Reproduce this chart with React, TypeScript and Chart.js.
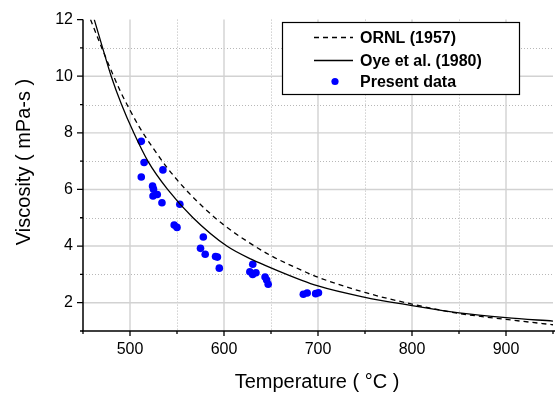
import React, { useEffect, useRef } from "react";
import { Chart, registerables } from "chart.js";

Chart.register(...registerables);

// ORNL (1957) curve
const ornlT = [458, 470, 480, 490, 500, 510, 525, 540, 560, 580, 600, 625, 650, 675, 700, 750, 800, 850, 900, 950];
const ornlV = [12, 11.0, 10.2, 9.45, 8.8, 8.2, 7.44, 6.75, 5.97, 5.31, 4.74, 4.16, 3.66, 3.26, 2.9, 2.36, 1.95, 1.62, 1.41, 1.22];

// Oye et al. (1980) curve
const oyeT = [462, 470, 480, 491, 504, 519, 540, 567, 603, 630, 650, 700, 750, 800, 850, 900, 950];
const oyeV = [12, 11.1, 10, 9, 8, 7, 6, 5, 4, 3.52, 3.23, 2.59, 2.19, 1.9, 1.64, 1.47, 1.35];

// Present data
const presentT = [512, 515, 512, 535, 524, 525, 524.5, 529, 534, 553, 547, 550, 578, 575, 580, 591, 593, 595, 630.6, 627.5, 630.5, 634, 643.7, 645.4, 647, 684.4, 688.5, 697.5, 700.5];
const presentV = [7.7, 6.95, 6.44, 6.69, 6.12, 6.01, 5.77, 5.82, 5.53, 5.48, 4.74, 4.66, 4.32, 3.92, 3.71, 3.63, 3.61, 3.22, 3.36, 3.09, 3.0, 3.06, 2.91, 2.8, 2.65, 2.3, 2.34, 2.32, 2.35];

const xMajor = [500, 600, 700, 800, 900];
const xMinor = [450, 550, 650, 750, 850, 950];
const yMajor = [2, 4, 6, 8, 10, 12];
const yMinor = [1, 3, 5, 7, 9, 11];

const legendLabels = ["ORNL (1957)", "Oye et al. (1980)", "Present data"];
const xTitle = "Temperature ( °C )";
const yTitle = "Viscosity ( mPa-s )";

const FONT = "'Liberation Sans', Arial, Helvetica, sans-serif";

const framePlugin = {
  id: "frame",
  beforeDatasetsDraw(chart: any) {
    const { ctx, chartArea: a, scales } = chart;
    const xs = scales.x;
    const ys = scales.y;
    ctx.save();
    // minor dotted grid
    ctx.strokeStyle = "#b8b8b8";
    ctx.lineWidth = 1;
    ctx.setLineDash([1, 2]);
    for (const v of xMinor) {
      if (v <= 450 || v >= 950) continue;
      const x = Math.round(xs.getPixelForValue(v)) + 0.5;
      ctx.beginPath();
      ctx.moveTo(x, a.top);
      ctx.lineTo(x, a.bottom);
      ctx.stroke();
    }
    for (const v of yMinor) {
      if (v <= 1) continue;
      const y = Math.round(ys.getPixelForValue(v)) + 0.5;
      ctx.beginPath();
      ctx.moveTo(a.left, y);
      ctx.lineTo(a.right, y);
      ctx.stroke();
    }
    // major solid grid
    ctx.setLineDash([]);
    ctx.strokeStyle = "#d2d2d2";
    ctx.lineWidth = 1.4;
    for (const v of xMajor) {
      const x = xs.getPixelForValue(v);
      ctx.beginPath();
      ctx.moveTo(x, a.top);
      ctx.lineTo(x, a.bottom);
      ctx.stroke();
    }
    for (const v of yMajor) {
      if (v >= 12) continue;
      const y = ys.getPixelForValue(v);
      ctx.beginPath();
      ctx.moveTo(a.left, y);
      ctx.lineTo(a.right, y);
      ctx.stroke();
    }
    ctx.restore();
  },
  afterDraw(chart: any) {
    const { ctx, chartArea: a, scales } = chart;
    const xs = scales.x;
    const ys = scales.y;
    ctx.save();
    ctx.setLineDash([]);
    ctx.strokeStyle = "#000";
    ctx.lineWidth = 1.5;
    // axes
    ctx.beginPath();
    ctx.moveTo(a.left, a.top);
    ctx.lineTo(a.left, a.bottom);
    ctx.moveTo(a.left - 1, a.bottom);
    ctx.lineTo(a.right + 2, a.bottom);
    ctx.stroke();
    // ticks
    ctx.lineWidth = 1.3;
    ctx.beginPath();
    for (const v of yMajor) {
      const y = ys.getPixelForValue(v);
      ctx.moveTo(a.left, y);
      ctx.lineTo(a.left - 6, y);
    }
    for (const v of yMinor) {
      const y = ys.getPixelForValue(v);
      ctx.moveTo(a.left, y);
      ctx.lineTo(a.left - 3, y);
    }
    for (const v of xMajor) {
      const x = xs.getPixelForValue(v);
      ctx.moveTo(x, a.bottom);
      ctx.lineTo(x, a.bottom + 5);
    }
    for (const v of xMinor) {
      const x = xs.getPixelForValue(v);
      ctx.moveTo(x, a.bottom);
      ctx.lineTo(x, a.bottom + 3);
    }
    ctx.stroke();

    // axis titles
    ctx.fillStyle = "#000";
    ctx.font = `20px ${FONT}`;
    ctx.textAlign = "center";
    ctx.textBaseline = "alphabetic";
    ctx.fillText(xTitle, (a.left + a.right) / 2 - 1, 388);
    ctx.save();
    ctx.translate(29.5, 162);
    ctx.rotate(-Math.PI / 2);
    ctx.fillText(yTitle, 0, 0);
    ctx.restore();

    // legend box
    const bx = 282, by = 22, bw = 237, bh = 72;
    ctx.fillStyle = "#fff";
    ctx.fillRect(bx, by, bw, bh);
    ctx.strokeStyle = "#000";
    ctx.lineWidth = 1.2;
    ctx.strokeRect(bx + 0.5, by + 0.5, bw, bh);
    const rowsY = [37.5, 60.5, 81.5];
    // dashed sample
    ctx.lineWidth = 1.3;
    ctx.setLineDash([5, 4]);
    ctx.beginPath();
    ctx.moveTo(314, rowsY[0]);
    ctx.lineTo(353, rowsY[0]);
    ctx.stroke();
    ctx.setLineDash([]);
    ctx.beginPath();
    ctx.moveTo(314, rowsY[1]);
    ctx.lineTo(353, rowsY[1]);
    ctx.stroke();
    ctx.fillStyle = "#0000ff";
    ctx.beginPath();
    ctx.arc(335, rowsY[2], 3.6, 0, Math.PI * 2);
    ctx.fill();
    ctx.fillStyle = "#000";
    ctx.font = `bold 16px ${FONT}`;
    ctx.textAlign = "left";
    for (let i = 0; i < legendLabels.length; i++) {
      ctx.fillText(legendLabels[i], 360, rowsY[i] + 5.8);
    }
    ctx.restore();
  },
};

export default function App() {
  const ref = useRef<HTMLCanvasElement | null>(null);
  useEffect(() => {
    if (!ref.current) return;
    const toXY = (xs: number[], ys: number[]) => xs.map((x, i) => ({ x, y: ys[i] }));
    const chart = new Chart(ref.current, {
      type: "line",
      data: {
        datasets: [
          {
            label: legendLabels[0],
            data: toXY(ornlT, ornlV),
            borderColor: "#000",
            borderWidth: 1.3,
            borderDash: [5, 4],
            pointRadius: 0,
            fill: false,
            cubicInterpolationMode: "monotone",
          },
          {
            label: legendLabels[1],
            data: toXY(oyeT, oyeV),
            borderColor: "#000",
            borderWidth: 1.3,
            pointRadius: 0,
            fill: false,
            cubicInterpolationMode: "monotone",
          },
          {
            label: legendLabels[2],
            data: toXY(presentT, presentV),
            showLine: false,
            pointRadius: 3.8,
            pointBackgroundColor: "#0000ff",
            pointBorderColor: "#0000ff",
            pointBorderWidth: 0,
            backgroundColor: "#0000ff",
            borderColor: "#0000ff",
          },
        ],
      },
      options: {
        animation: false,
        responsive: false,
        maintainAspectRatio: false,
        events: [],
        layout: { padding: { top: 15, right: 1, left: 0, bottom: 0 } },
        plugins: { legend: { display: false }, tooltip: { enabled: false } },
        scales: {
          x: {
            type: "linear",
            min: 450,
            max: 950,
            afterBuildTicks: (axis: any) => {
              axis.ticks = xMajor.map((v) => ({ value: v }));
            },
            afterFit: (axis: any) => {
              axis.height = 63;
            },
            grid: { display: false, drawTicks: false },
            border: { display: false },
            ticks: {
              padding: 9,
              color: "#000",
              autoSkip: false,
              maxRotation: 0,
              font: { family: FONT, size: 16 },
              callback: (v: any) => String(v),
            },
          },
          y: {
            type: "linear",
            min: 1,
            max: 12,
            afterBuildTicks: (axis: any) => {
              axis.ticks = yMajor.map((v) => ({ value: v }));
            },
            afterFit: (axis: any) => {
              axis.width = 83;
            },
            grid: { display: false, drawTicks: false },
            border: { display: false },
            ticks: {
              padding: 10,
              color: "#000",
              autoSkip: false,
              font: { family: FONT, size: 16 },
              callback: (v: any) => String(v),
            },
          },
        },
      },
      plugins: [framePlugin],
    } as any);
    return () => chart.destroy();
  }, []);
  return (
    <div style={{ position: "fixed", left: 0, top: 0, width: 557, height: 394, background: "#fff" }}>
      <canvas ref={ref} width={557} height={394} style={{ display: "block", width: 557, height: 394 }} />
    </div>
  );
}
